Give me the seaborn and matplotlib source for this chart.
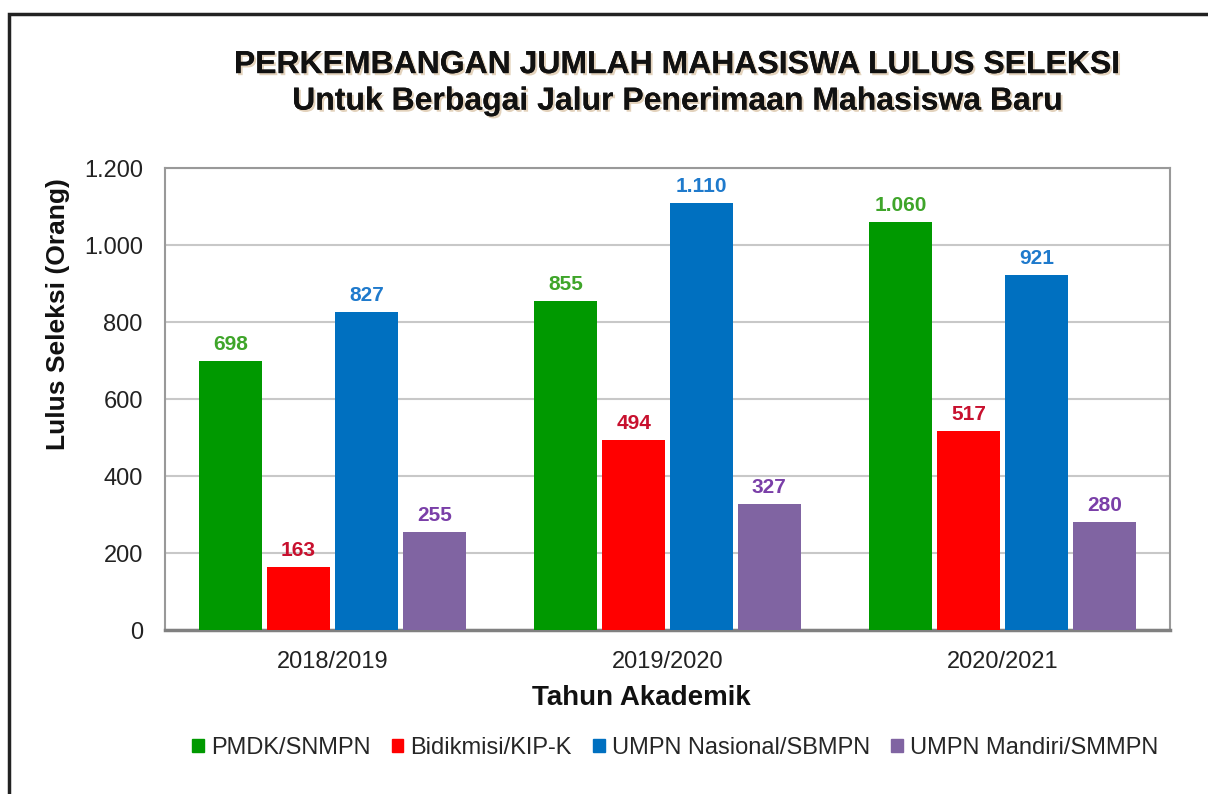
import matplotlib
matplotlib.use("Agg")
import matplotlib.pyplot as plt
import matplotlib.patheffects as pe
from matplotlib.patches import Rectangle
from matplotlib.ticker import FuncFormatter
import seaborn as sns
import pandas as pd

# data
tahun = ["2018/2019", "2019/2020", "2020/2021"]
jalur = ["PMDK/SNMPN", "Bidikmisi/KIP-K", "UMPN Nasional/SBMPN", "UMPN Mandiri/SMMPN"]
pmdk = [698, 855, 1060]
bidikmisi = [163, 494, 517]
umpn_nasional = [827, 1110, 921]
umpn_mandiri = [255, 327, 280]

bar_colors = ["#009900", "#FF0000", "#0070C0", "#8064A2"]
label_colors = ["#3FA52A", "#C8102E", "#1F7ACC", "#7A3FA8"]

rows = []
for nama, nilai in zip(jalur, [pmdk, bidikmisi, umpn_nasional, umpn_mandiri]):
    for t, v in zip(tahun, nilai):
        rows.append({"Tahun": t, "Jalur": nama, "Jumlah": v})
df = pd.DataFrame(rows)

sns.set_theme(style="white")
plt.rcParams["font.family"] = ["Liberation Sans", "DejaVu Sans"]


def titik(x, pos=None):
    return f"{int(round(x)):,}".replace(",", ".")


fig = plt.figure(figsize=(12.08, 7.94), dpi=100)
ax = fig.add_axes([0.1366, 0.2065, 0.8320, 0.5819])

sns.barplot(data=df, x="Tahun", y="Jumlah", hue="Jalur", hue_order=jalur,
            order=tahun, palette=bar_colors, width=0.81, gap=0.07,
            saturation=1, edgecolor="none", legend=False, ax=ax, zorder=3)

# value labels above each bar
for cont, warna in zip(ax.containers, label_colors):
    ax.bar_label(cont, labels=[titik(v) for v in cont.datavalues], padding=5,
                 color=warna, fontsize=15, fontweight="bold")

ax.set_ylim(0, 1200)
ax.set_xlim(-0.5, 2.5)
ax.set_yticks(range(0, 1201, 200))
ax.yaxis.set_major_formatter(FuncFormatter(titik))
ax.grid(axis="y", color="#C8C8C8", linewidth=1.5, zorder=0)
ax.set_axisbelow(True)
for s in ["top", "right", "left"]:
    ax.spines[s].set_color("#999999")
    ax.spines[s].set_linewidth(1.5)
ax.spines["bottom"].set_color("#808080")
ax.spines["bottom"].set_linewidth(2.5)
ax.tick_params(axis="both", length=0, labelsize=17, colors="#222222")
ax.tick_params(axis="y", pad=16)
ax.tick_params(axis="x", pad=15)

ax.set_xlabel("Tahun Akademik", fontsize=20, fontweight="bold", color="#111111")
ax.set_ylabel("Lulus Seleksi (Orang)", fontsize=19, fontweight="bold", color="#111111")
ax.xaxis.set_label_coords(0.474, -0.118)
ax.yaxis.set_label_coords(-0.095, 0.684)

shadow = [pe.withSimplePatchShadow(offset=(1.5, -1.5), shadow_rgbFace="#b08040", alpha=0.35), pe.Normal()]
fig.text(0.561, 0.918, "PERKEMBANGAN JUMLAH MAHASISWA LULUS SELEKSI", ha="center", va="center",
         fontsize=23, fontweight="bold", color="#111111", path_effects=shadow)
fig.text(0.561, 0.872, "Untuk Berbagai Jalur Penerimaan Mahasiswa Baru", ha="center", va="center",
         fontsize=23, fontweight="bold", color="#111111", path_effects=shadow)

handles = [Rectangle((0, 0), 1, 1, color=c) for c in bar_colors]
fig.legend(handles, jalur, loc="center", bbox_to_anchor=(0.559, 0.058), ncol=4, frameon=False,
           fontsize=17, handlelength=0.5, handleheight=0.5, handletextpad=0.3, columnspacing=0.9)

# outer chart frame, cut off at right and bottom like the screenshot
fig.patches.append(Rectangle((9 / 1208, -0.05), 1.1, 0.05 + (794 - 14) / 794,
                             transform=fig.transFigure, fill=False,
                             edgecolor="#222222", linewidth=2.5))

fig.savefig("out.png", dpi=100)
